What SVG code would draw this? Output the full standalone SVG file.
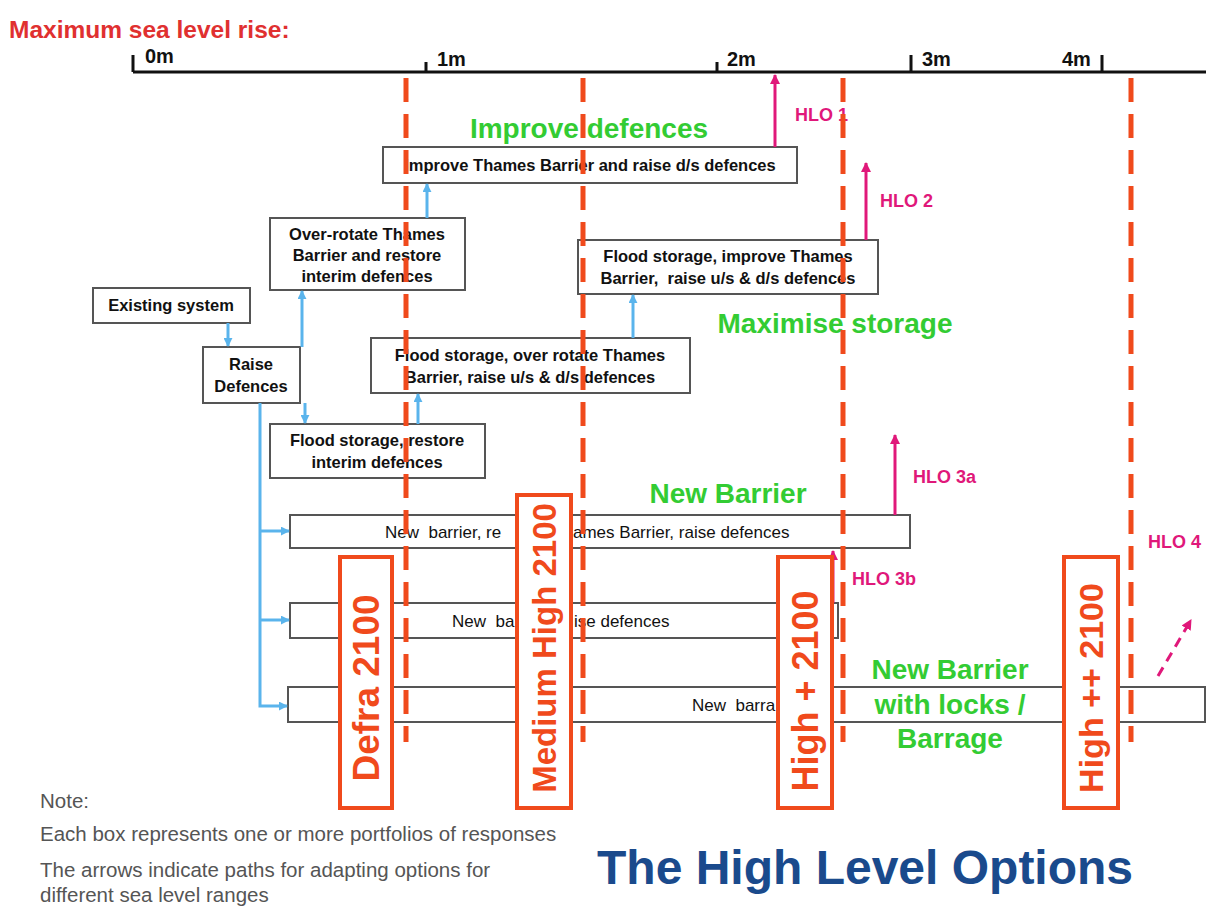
<svg xmlns="http://www.w3.org/2000/svg" width="1220" height="915" viewBox="0 0 1220 915">
<defs>
<style>
.bx{fill:#fff;stroke:#555;stroke-width:2}
.bt{font-family:"Liberation Sans",Arial,sans-serif;font-size:16.5px;font-weight:bold;fill:#111;text-anchor:middle}
.rt{font-family:"Liberation Sans",Arial,sans-serif;font-size:17px;fill:#111;white-space:pre}
.ob{fill:#fff;stroke:#f04a1c;stroke-width:4}
.ot{font-family:"Liberation Sans",Arial,sans-serif;font-size:34px;font-weight:bold;fill:#f04a1c;text-anchor:middle}
.gt{font-family:"Liberation Sans",Arial,sans-serif;font-size:28px;font-weight:bold;fill:#33cc33;text-anchor:middle}
.ht{font-family:"Liberation Sans",Arial,sans-serif;font-size:18px;font-weight:bold;fill:#e0187a}
.ax{font-family:"Liberation Sans",Arial,sans-serif;font-size:20px;font-weight:bold;fill:#111}
.nt{font-family:"Liberation Sans",Arial,sans-serif;font-size:20.5px;fill:#555}
.dl{stroke:#f04a1c;stroke-width:5;stroke-dasharray:24 12;fill:none}
.bl{stroke:#5ab4ec;stroke-width:3;fill:none}
.hl{stroke:#e0187a;stroke-width:3;fill:none}
</style>
<marker id="ab" viewBox="0 0 10 10" refX="9" refY="5" markerWidth="3" markerHeight="3" orient="auto-start-reverse"><path d="M0,0L10,5L0,10z" fill="#5ab4ec"/></marker>
<marker id="am" viewBox="0 0 10 10" refX="9" refY="5" markerWidth="3.5" markerHeight="3.5" orient="auto-start-reverse"><path d="M0,0L10,5L0,10z" fill="#e0187a"/></marker>
</defs>
<rect width="1220" height="915" fill="#fff"/>

<g id="axis">
<text x="9" y="38" font-family="Liberation Sans,Arial,sans-serif" font-size="24.5" font-weight="bold" fill="#e03030">Maximum sea level rise:</text>
<line x1="133" y1="72" x2="1206" y2="72" stroke="#111" stroke-width="3"/>
<path d="M133,55V72M426,62V72M717,62V72M911,55V72M1102,55V72" stroke="#111" stroke-width="3" fill="none"/>
<text class="ax" x="145" y="63">0m</text>
<text class="ax" x="437" y="66">1m</text>
<text class="ax" x="727" y="66">2m</text>
<text class="ax" x="922" y="66">3m</text>
<text class="ax" x="1062" y="66">4m</text>
</g>

<g id="n1"><rect class="bx" x="383" y="147" width="414" height="36"/><text class="bt" x="590" y="171">Improve Thames Barrier and raise d/s defences</text></g>
<g id="n2"><rect class="bx" x="270" y="218" width="195" height="72"/><text class="bt" x="367" y="240">Over-rotate Thames</text><text class="bt" x="367" y="261">Barrier and restore</text><text class="bt" x="367" y="282">interim defences</text></g>
<g id="n3"><rect class="bx" x="93" y="288" width="157" height="35"/><text class="bt" x="171" y="311">Existing system</text></g>
<g id="n4"><rect class="bx" x="578" y="240" width="300" height="54"/><text class="bt" x="728" y="262">Flood storage, improve Thames</text><text class="bt" x="728" y="284" style="white-space:pre">Barrier,  raise u/s &amp; d/s defences</text></g>
<g id="n5"><rect class="bx" x="203" y="347" width="97" height="56"/><text class="bt" x="251" y="370">Raise</text><text class="bt" x="251" y="392">Defences</text></g>
<g id="n6"><rect class="bx" x="371" y="338" width="319" height="55"/><text class="bt" x="530" y="361">Flood storage, over rotate Thames</text><text class="bt" x="530" y="383">Barrier, raise u/s &amp; d/s defences</text></g>
<g id="n7"><rect class="bx" x="270" y="424" width="215" height="54"/><text class="bt" x="377" y="446">Flood storage, restore</text><text class="bt" x="377" y="468">interim defences</text></g>
<g id="n8"><rect class="bx" x="290" y="515" width="620" height="33"/><text class="rt" x="385" y="538">New  barrier, re</text><text class="rt" x="573" y="538">ames Barrier, raise defences</text></g>
<g id="n9"><rect class="bx" x="290" y="603" width="548" height="35"/><text class="rt" x="452" y="627">New  ba</text><text class="rt" x="574" y="627">ise defences</text></g>
<g id="n10"><rect class="bx" x="288" y="687" width="917" height="35"/><text class="rt" x="692" y="711">New  barra</text></g>

<g id="connectors">
<line class="bl" x1="228" y1="323" x2="228" y2="346" marker-end="url(#ab)"/>
<line class="bl" x1="302" y1="347" x2="302" y2="291" marker-end="url(#ab)"/>
<line class="bl" x1="305" y1="403" x2="305" y2="423" marker-end="url(#ab)"/>
<line class="bl" x1="418" y1="424" x2="418" y2="394" marker-end="url(#ab)"/>
<line class="bl" x1="427" y1="218" x2="427" y2="184" marker-end="url(#ab)"/>
<line class="bl" x1="633" y1="338" x2="633" y2="295" marker-end="url(#ab)"/>
<path class="bl" d="M260,403V706H287" marker-end="url(#ab)"/>
<line class="bl" x1="260" y1="531" x2="289" y2="531" marker-end="url(#ab)"/>
<line class="bl" x1="260" y1="620" x2="289" y2="620" marker-end="url(#ab)"/>
<line class="hl" x1="775" y1="147" x2="775" y2="75" marker-end="url(#am)"/>
<line class="hl" x1="866" y1="240" x2="866" y2="163" marker-end="url(#am)"/>
<line class="hl" x1="895" y1="515" x2="895" y2="435" marker-end="url(#am)"/>
<line class="hl" x1="833" y1="603" x2="833" y2="551" marker-end="url(#am)"/>
<line class="hl" x1="1158" y1="676" x2="1191" y2="620" stroke-dasharray="10 7" marker-end="url(#am)"/>
</g>

<g id="hlo">
<text class="ht" x="795" y="121">HLO 1</text>
<text class="ht" x="880" y="207">HLO 2</text>
<text class="ht" x="913" y="483">HLO 3a</text>
<text class="ht" x="852" y="585">HLO 3b</text>
<text class="ht" x="1148" y="548">HLO 4</text>
</g>

<g id="o1"><rect class="ob" x="340" y="557" width="52" height="251"/><text class="ot" style="font-size:37px" transform="translate(379,688) rotate(-90)">Defra 2100</text></g>
<g id="o2"><rect class="ob" x="517" y="495" width="54" height="313"/><text class="ot" style="font-size:33px" transform="translate(556,648) rotate(-90)">Medium High 2100</text></g>
<g id="o3"><rect class="ob" x="778" y="557" width="54" height="251"/><text class="ot" style="font-size:36px" transform="translate(818,691) rotate(-90)">High + 2100</text></g>
<g id="o4"><rect class="ob" x="1064" y="557" width="54" height="251"/><text class="ot" transform="translate(1103,688) rotate(-90)">High ++ 2100</text></g>

<g id="labels">
<text class="gt" x="589" y="138">Improve defences</text>
<text class="gt" x="835" y="333">Maximise storage</text>
<text class="gt" x="728" y="503">New Barrier</text>
<text class="gt" x="950" y="679">New Barrier</text>
<text class="gt" x="950" y="714">with locks /</text>
<text class="gt" x="950" y="748">Barrage</text>
</g>

<g id="dashes">
<line class="dl" x1="406" y1="78" x2="406" y2="742"/>
<line class="dl" x1="583" y1="78" x2="583" y2="742"/>
<line class="dl" x1="843" y1="78" x2="843" y2="742"/>
<line class="dl" x1="1131" y1="78" x2="1131" y2="742"/>
</g>

<g id="notes">
<text class="nt" x="40" y="808">Note:</text>
<text class="nt" x="40" y="841">Each box represents one or more portfolios of responses</text>
<text class="nt" x="40" y="877">The arrows indicate paths for adapting options for</text>
<text class="nt" x="40" y="902">different sea level ranges</text>
<text x="597" y="884" font-family="Liberation Sans,Arial,sans-serif" font-size="48" font-weight="bold" fill="#1a4a8c">The High Level Options</text>
</g>
</svg>
